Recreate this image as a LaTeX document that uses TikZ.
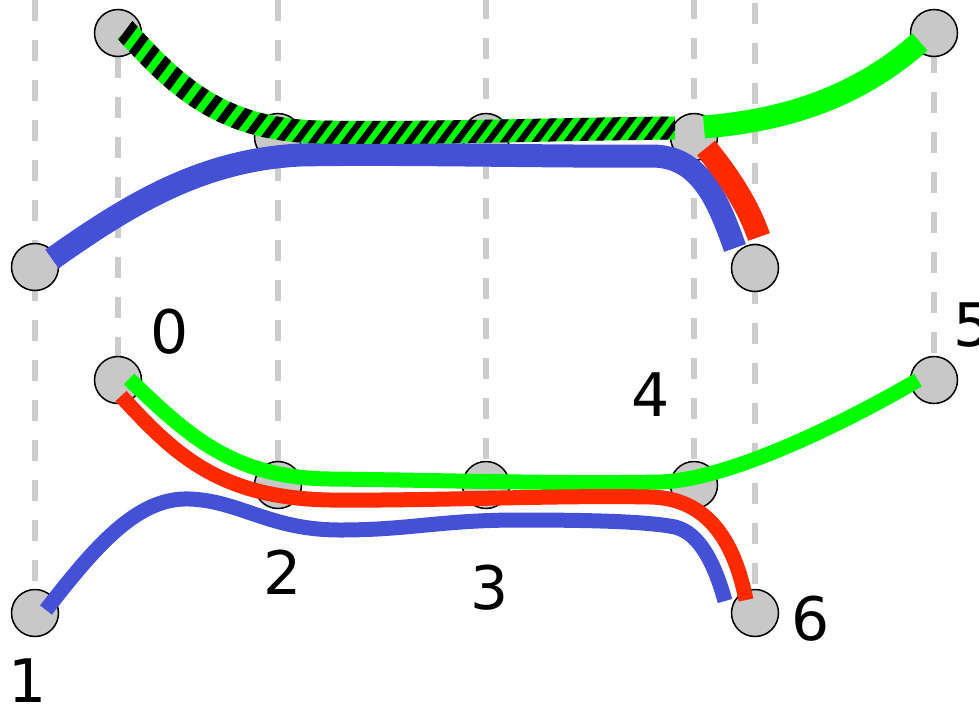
\documentclass[tikz,border=0pt]{standalone}
\usepackage{fontspec}
\setmainfont{DejaVu Sans}
\usetikzlibrary{calc,decorations.markings}
\definecolor{lblue}{RGB}{68,80,213}
\definecolor{lred}{RGB}{255,42,0}
\definecolor{lgreen}{RGB}{0,255,0}
\definecolor{nodegray}{RGB}{200,200,200}
\definecolor{guidegray}{RGB}{204,204,204}
\newcommand\hatchstripe{%
  \pgfgettransformentries{\hta}{\htb}{\htc}{\htd}{\hte}{\htf}%
  \pgfmathsetmacro\htk{(0.6*\hta+0.8*\htb)/(0.8*\hta-0.6*\htb)}%
  \pgfmathsetmacro\htx{11.5*\htk}%
  \pgfmathsetmacro\hxa{(-1)*(\htx)-4}%
  \pgfmathsetmacro\hxb{(-1)*(\htx)+4}%
  \pgfmathsetmacro\hxc{\htx+4}%
  \pgfmathsetmacro\hxd{\htx-4}%
  \fill[black] (\hxa pt,-11.5pt) -- (\hxb pt,-11.5pt) -- (\hxc pt,11.5pt) -- (\hxd pt,11.5pt) -- cycle;}
\begin{document}
\begin{tikzpicture}[x=1pt,y=-1pt,
  guide/.style={draw=guidegray,line width=5.5pt,dash pattern=on 21pt off 19pt},
  station/.style={circle,draw=black,line width=1.5pt,fill=nodegray,minimum size=47pt,inner sep=0pt},
  uline/.style={line width=23pt,line cap=butt},
  lline/.style={line width=15pt,line cap=butt},
  lbl/.style={inner sep=0pt,font=\fontsize{60}{60}\selectfont},
  hatched/.style={postaction={decorate,decoration={markings,
    mark=between positions 3pt and 1 step 16pt with {\hatchstripe}}}}]
\useasboundingbox (0,0) rectangle (979,707);
\coordinate (top) at (0,0);
% upper stations
\coordinate (u0) at (118,33);
\coordinate (u1) at (35,267);
\coordinate (u2) at (278,137);
\coordinate (u3) at (486,137);
\coordinate (u4) at (694,137);
\coordinate (u5) at (934,33);
\coordinate (u6) at (755,268);
% lower stations
\coordinate (l0) at (118,380);
\coordinate (l1) at (35,613);
\coordinate (l2) at (278,485);
\coordinate (l3) at (486,485);
\coordinate (l4) at (694,485);
\coordinate (l5) at (934,380);
\coordinate (l6) at (755,613);
% guides
\draw[guide] (l1 |- top) -- (l1);
\draw[guide,dash phase=23pt] (l0 |- top) -- (l0);
\draw[guide] (l2 |- top) -- (l2);
\draw[guide,dash phase=2pt] (l3 |- top) -- (l3);
\draw[guide,dash phase=2pt] (l4 |- top) -- (l4);
\draw[guide,dash phase=37pt] (l6 |- top) -- (l6);
\draw[guide,dash phase=28pt] (l5 |- top) -- (l5);
% station nodes
\foreach \n in {u0,u1,u2,u3,u4,u5,u6,l0,l1,l2,l3,l4,l5,l6}
  \node[station] (s\n) at (\n) {};
% labels
\node[lbl] (t0) at (170,332) {0};
\node[lbl] (t1) at (28,681) {1};
\node[lbl] (t2) at (283,572) {2};
\node[lbl] (t3) at (490,588) {3};
\node[lbl] (t4) at (651,395) {4};
\node[lbl] (t5) at (973,325) {5};
\node[lbl] (t6) at (811,619) {6};
% ---- upper lines ----
\draw[uline,lblue] ($(su1)+(17,-8)$) .. controls (135,200) and (205,160) .. (300,155)
  .. controls (400,153) and (560,157) .. (650,156)
  .. controls (700,155) and (718,200) .. ($(su6)+(-20,-20)$);
\draw[uline,lred] ($(su4)+(12,11)$) .. controls (728,175) and (748,205) .. ($(su6)+(4,-31)$);
\begin{scope}
\clip (0,0) rectangle ($(su4)+(-19,570)$);
\draw[uline,lgreen,hatched] ($(su0)+(8,-2)$) .. controls (175,85) and (220,130) .. (320,132)
  .. controls (420,134) and (560,129) .. ($(su4)+(-19,-9)$);
\end{scope}
\draw[uline,lgreen] ($(su4)+(10,-10)$) .. controls (790,120) and (860,95) .. ($(su5)+(-14,9)$);
% ---- lower lines ----
\draw[lline,lgreen] ($(sl0)+(11,-1)$) .. controls (185,432) and (230,478) .. (330,479)
  .. controls (430,480) and (560,484) .. (660,482)
  .. controls (730,480) and (850,420) .. ($(sl5)+(-16,0)$);
\draw[lline,lred] ($(sl0)+(3,16)$) .. controls (175,455) and (220,498) .. (330,500)
  .. controls (430,501) and (560,495) .. (650,497)
  .. controls (710,498) and (735,545) .. ($(sl6)+(-9,-13)$);
\draw[lline,lblue] ($(sl1)+(11,-3)$) .. controls (100,540) and (140,497) .. (190,499)
  .. controls (240,501) and (270,530) .. (340,530)
  .. controls (410,530) and (440,520) .. (520,520)
  .. controls (600,520) and (650,522) .. (675,527)
  .. controls (700,533) and (715,565) .. ($(sl6)+(-30,-12)$);
\end{tikzpicture}
\end{document}
